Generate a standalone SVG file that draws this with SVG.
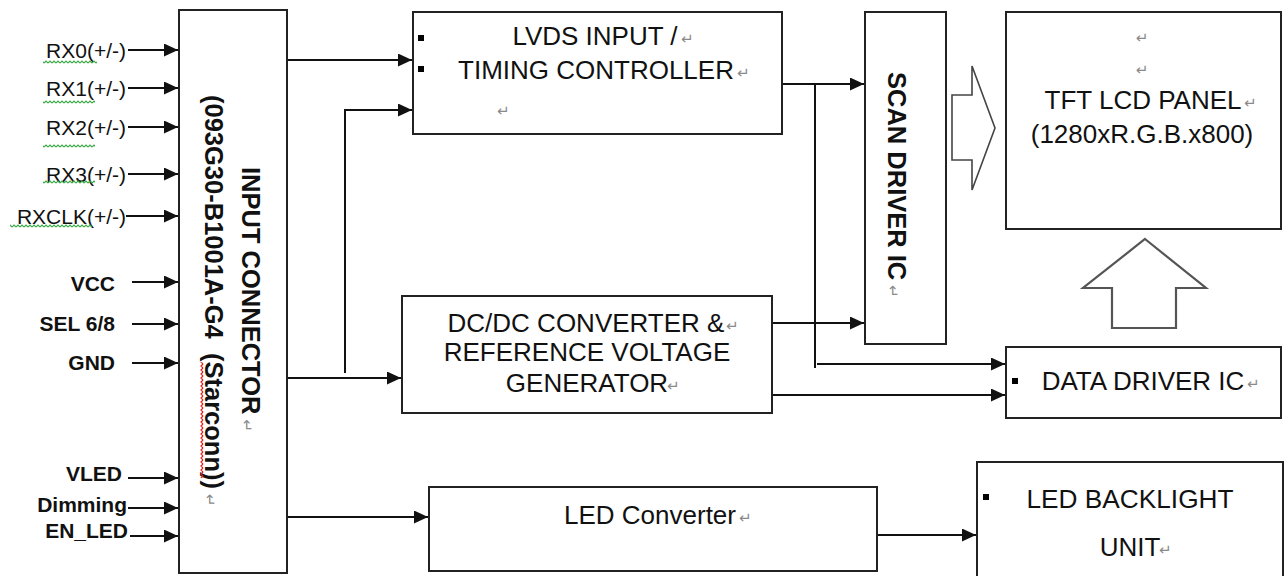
<svg xmlns="http://www.w3.org/2000/svg" width="1286" height="576" viewBox="0 0 1286 576">
<style>
text{font-family:"Liberation Sans",Arial,sans-serif;fill:#111}
.lbl{font-size:21px;text-anchor:end}
.lblb{font-size:21px;font-weight:bold;text-anchor:end}
.bt{font-size:26px;text-anchor:middle}
.vt{font-size:25.5px;font-weight:bold}
.pm{font-family:"DejaVu Sans",sans-serif;font-size:15px;fill:#8a8a8a;font-weight:normal}
.box{fill:#fff;stroke:#222;stroke-width:2}
.ln{fill:none;stroke:#111;stroke-width:2}
.arw{marker-end:url(#ah)}
.blk{fill:#fff;stroke:#444;stroke-width:1.6;stroke-linejoin:miter}
.blk2{fill:#fff;stroke:#555;stroke-width:2.2;stroke-linejoin:miter}
</style>
<defs>
<marker id="ah" markerUnits="userSpaceOnUse" markerWidth="15" markerHeight="14" refX="14" refY="6.5" orient="auto">
<path d="M0,0 L14,6.5 L0,13 z" fill="#111"/>
</marker>
<pattern id="wg" width="4" height="4" patternUnits="userSpaceOnUse">
<path d="M0,3 L2,1 L4,3" fill="none" stroke="#3aa845" stroke-width="1.2"/>
</pattern>
<pattern id="wr" width="4" height="4" patternUnits="userSpaceOnUse">
<path d="M3,0 L1,2 L3,4" fill="none" stroke="#e02020" stroke-width="1.2"/>
</pattern>
</defs>

<g id="inputs">
<text class="lbl" x="126" y="58">RX0(+/-)</text>
<text class="lbl" x="126" y="96">RX1(+/-)</text>
<text class="lbl" x="126" y="135">RX2(+/-)</text>
<text class="lbl" x="126" y="182">RX3(+/-)</text>
<text class="lbl" x="126" y="224">RXCLK(+/-)</text>
<rect x="43" y="60" width="54" height="4" fill="url(#wg)"/>
<rect x="43" y="100" width="52" height="4" fill="url(#wg)"/>
<rect x="43" y="144" width="52" height="4" fill="url(#wg)"/>
<rect x="43" y="180" width="52" height="4" fill="url(#wg)"/>
<rect x="10" y="224" width="82" height="4" fill="url(#wg)"/>
<text class="lblb" x="115" y="291">VCC</text>
<text class="lblb" x="115" y="331">SEL 6/8</text>
<text class="lblb" x="115" y="370">GND</text>
<text class="lblb" x="122" y="481">VLED</text>
<text class="lblb" x="127" y="512">Dimming</text>
<text class="lblb" x="128" y="538">EN_LED</text>
</g>

<g id="connectors">
<path class="ln arw" d="M128,50 H178"/>
<path class="ln arw" d="M128,88 H178"/>
<path class="ln arw" d="M128,127 H178"/>
<path class="ln arw" d="M128,174 H178"/>
<path class="ln arw" d="M126,216 H178"/>
<path class="ln arw" d="M132,282 H178"/>
<path class="ln arw" d="M132,324 H178"/>
<path class="ln arw" d="M132,363 H178"/>
<path class="ln arw" d="M128,478 H178"/>
<path class="ln arw" d="M128,508 H178"/>
<path class="ln arw" d="M130,536 H178"/>
<path class="ln arw" d="M287,60 H412"/>
<path class="ln arw" d="M345,373 V110 H412"/>
<path class="ln arw" d="M287,378 H401"/>
<path class="ln arw" d="M287,517 H428"/>
<path class="ln arw" d="M782,84 H864"/>
<path class="ln" d="M815,84 V368"/>
<path class="ln arw" d="M817,364 H1005"/>
<path class="ln arw" d="M772,323 H864"/>
<path class="ln arw" d="M772,395 H1005"/>
<path class="ln arw" d="M877,535 H976"/>
</g>

<g id="input-connector">
<rect class="box" x="179" y="10" width="108" height="563"/>
<text class="vt" transform="translate(242,167) rotate(90)">INPUT CONNECTOR<tspan class="pm"> ↵</tspan></text>
<text class="vt" transform="translate(205,95) rotate(90)">(093G30-B1001A-G4&#160; (Starconn))<tspan class="pm"> ↵</tspan></text>
<rect x="200" y="362" width="4" height="116" fill="url(#wr)"/>
</g>

<g id="timing-controller">
<rect class="box" x="413" y="12" width="369" height="122"/>
<rect x="418" y="35" width="6" height="6" fill="#000"/>
<rect x="418" y="66" width="6" height="6" fill="#000"/>
<text class="bt" x="595" y="45">LVDS INPUT /</text>
<text class="bt" x="596" y="79">TIMING CONTROLLER</text>
<text class="pm" x="681" y="44">↵</text>
<text class="pm" x="737" y="78">↵</text>
<text class="pm" x="497" y="116">↵</text>
</g>

<g id="dcdc-converter">
<rect class="box" x="402" y="296" width="370" height="117"/>
<text class="bt" x="586" y="332">DC/DC CONVERTER &amp;</text>
<text class="bt" x="587" y="361">REFERENCE VOLTAGE</text>
<text class="bt" x="587" y="392">GENERATOR</text>
<text class="pm" x="726" y="331">↵</text>
<text class="pm" x="667" y="391">↵</text>
</g>

<g id="led-converter">
<rect class="box" x="429" y="487" width="448" height="84"/>
<text class="bt" x="650" y="524">LED Converter</text>
<text class="pm" x="739" y="523">↵</text>
</g>

<g id="scan-driver">
<rect class="box" x="865" y="12" width="81" height="332"/>
<text class="vt" transform="translate(888,72) rotate(90)">SCAN DRIVER IC<tspan class="pm"> ↵</tspan></text>
</g>

<g id="tft-panel">
<rect class="box" x="1006" y="12" width="275" height="217"/>
<text class="pm" x="1142" y="43" text-anchor="middle">↵</text>
<text class="pm" x="1142" y="75" text-anchor="middle">↵</text>
<text class="bt" x="1143" y="109">TFT LCD PANEL</text>
<text class="bt" x="1142" y="143">(1280xR.G.B.x800)</text>
<text class="pm" x="1244" y="108">↵</text>
</g>

<g id="data-driver">
<rect class="box" x="1006" y="347" width="275" height="71"/>
<rect x="1012" y="378" width="6" height="6" fill="#000"/>
<text class="bt" x="1143" y="390">DATA DRIVER IC</text>
<text class="pm" x="1247" y="389">↵</text>
</g>

<g id="led-backlight">
<rect class="box" x="977" y="462" width="306" height="130"/>
<rect x="983" y="494" width="6" height="6" fill="#000"/>
<text class="bt" x="1130" y="508" textLength="207" lengthAdjust="spacingAndGlyphs">LED BACKLIGHT</text>
<text class="bt" x="1130" y="556">UNIT</text>
<text class="pm" x="1159" y="555">↵</text>
</g>

<g id="block-arrows">
<polygon class="blk" points="952,95 972,95 972,66 995,128 972,190 972,160 952,160"/>
<polygon class="blk2" points="1145,239 1206,288 1176,288 1176,328 1112,328 1112,288 1083,288"/>
</g>
</svg>
